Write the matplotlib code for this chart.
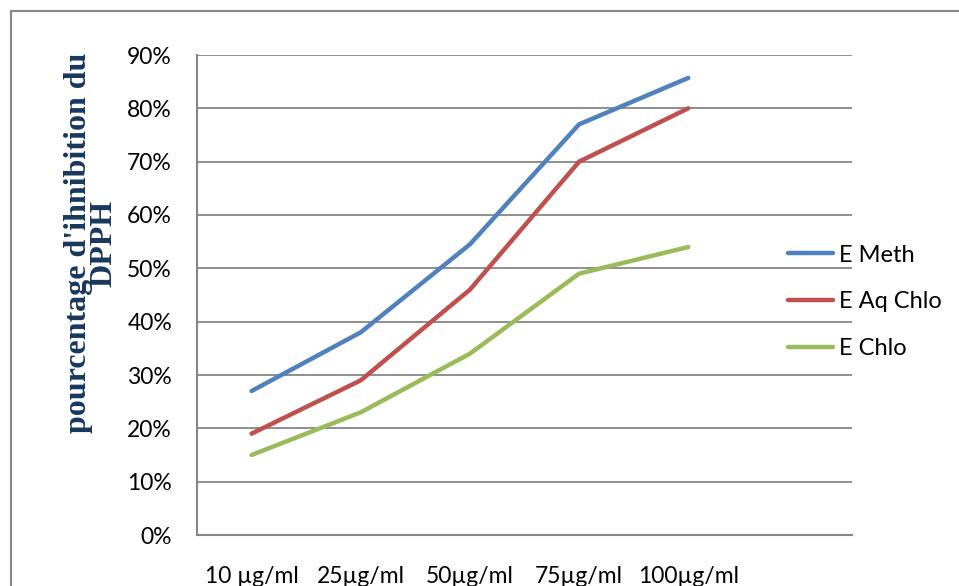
import matplotlib.pyplot as plt
from matplotlib.lines import Line2D
from matplotlib.ticker import PercentFormatter

categories = ['10 µg/ml', '25µg/ml', '50µg/ml', '75µg/ml', '100µg/ml']
e_meth = [27, 38, 54.5, 77, 85.7]
e_aq_chlo = [19, 29, 46, 70, 80]
e_chlo = [15, 23, 34, 49, 54]

W, H = 959, 586
fig = plt.figure(figsize=(W / 100, H / 100), dpi=100)
plt.rcParams['font.family'] = ['Lato', 'DejaVu Sans']

ax = fig.add_axes([197 / W, 1 - 535 / H, 655 / W, 480 / H])

x = range(len(categories))
ax.plot(x, e_meth, color='#4F81BD', lw=3.2, label='E Meth', solid_capstyle='round')
ax.plot(x, e_aq_chlo, color='#C0504D', lw=3.2, label='E Aq Chlo', solid_capstyle='round')
ax.plot(x, e_chlo, color='#9BBB59', lw=3.2, label='E Chlo', solid_capstyle='round')

# one empty slot on the right, as in the source
ax.set_xlim(-0.5, len(categories) + 0.5)
ax.set_ylim(0, 90)
ax.set_yticks(range(0, 91, 10))
ax.yaxis.set_major_formatter(PercentFormatter(decimals=0))
ax.set_xticks(list(x))
ax.set_xticklabels(categories)

ax.grid(axis='y', color='#868686', lw=1.3)
ax.set_axisbelow(True)
for side in ['top', 'right']:
    ax.spines[side].set_visible(False)
for side in ['left', 'bottom']:
    ax.spines[side].set_color('#868686')
    ax.spines[side].set_linewidth(1.5)
ax.tick_params(axis='both', length=0, labelsize=16.5)
ax.tick_params(axis='y', pad=18)
ax.tick_params(axis='x', pad=22)

fig.text(91 / W, 1 - 243 / H, "pourcentage d'ihnibition du\nDPPH",
         rotation=90, ha='center', va='center', multialignment='center',
         family='Liberation Serif', fontweight='bold', fontsize=23,
         color='#17375E', linespacing=0.82)

fig.legend(loc='center left', bbox_to_anchor=(788 / W, 1 - 302 / H),
           frameon=False, fontsize=17, handlelength=1.9, handletextpad=0.25,
           labelspacing=1.1, borderpad=0, borderaxespad=0)

# chart area border (cut off at right and bottom)
fig.add_artist(Line2D([11 / W, 11 / W], [1 - 11 / H, 0], color='#868686', lw=1.5))
fig.add_artist(Line2D([11 / W, 1], [1 - 11 / H, 1 - 11 / H], color='#868686', lw=1.5))

plt.savefig('out.png', dpi=100)
